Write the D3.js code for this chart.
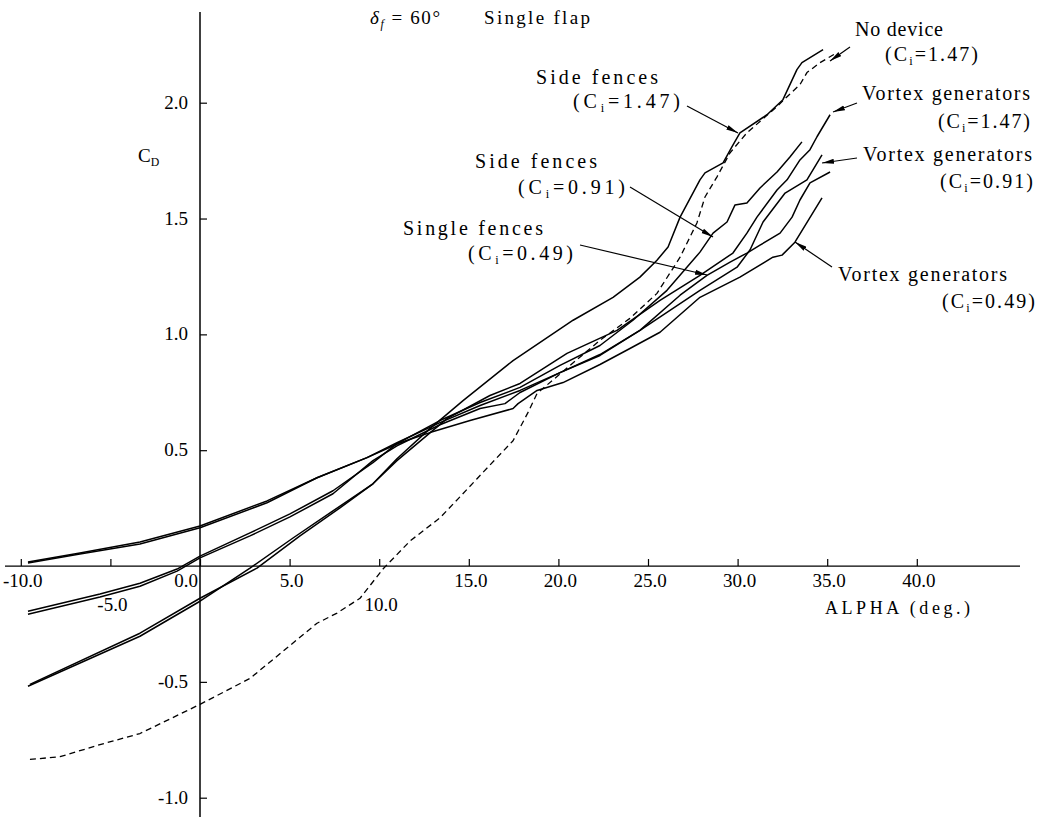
<!DOCTYPE html>
<html><head><meta charset="utf-8">
<script src="https://cdn.jsdelivr.net/npm/d3@7"></script>
<style>
body{margin:0;background:#fff}
svg{display:block}
</style>
</head><body>
<svg id="chart" width="1040" height="817" font-family="'Liberation Serif', 'Times New Roman', Times, 'DejaVu Serif', serif"></svg>
<script>
// ---------- data ----------
const xTicks = [-10, -5, 0, 5, 10, 15, 20, 25, 30, 35, 40];
const xTickLabels = ["-10.0", "-5.0", "0.0", "5.0", "10.0", "15.0", "20.0", "25.0", "30.0", "35.0", "40.0"];
const yTicks = [2.0, 1.5, 1.0, 0.5, -0.5, -1.0];
const yTickLabels = ["2.0", "1.5", "1.0", "0.5", "-0.5", "-1.0"];

// No device (Ci = 1.47) - dashed
const alphaNoDevice = [-9.49,-7.81,-5.58,-3.35,0,2.79,4.63,6.53,7.65,8.93,10.21,11.72,13.39,14.40,15.46,17.47,18.30,18.81,20.65,22.32,23.99,25.50,26.79,27.73,28.18,28.85,29.58,30.52,32.20,32.76,33.48,33.87,34.60,35.55];
const cdNoDevice    = [-0.835,-0.823,-0.771,-0.723,-0.597,-0.485,-0.368,-0.247,-0.203,-0.139,-0.013,0.108,0.208,0.290,0.377,0.541,0.662,0.745,0.866,0.974,1.069,1.177,1.333,1.481,1.593,1.680,1.784,1.870,1.983,2.026,2.078,2.130,2.173,2.216];

// Side fences (Ci = 1.47)
const alphaSide147 = [-9.60,-3.35,0,2.79,5.19,7.42,9.65,10.99,12.83,14.68,17.47,20.82,23.05,24.55,25.50,26.12,26.79,27.90,28.18,29.19,29.69,30.13,31.64,32.53,33.31,33.59,34.77];
const cdSide147    = [-0.519,-0.303,-0.152,-0.009,0.121,0.238,0.355,0.463,0.593,0.714,0.887,1.061,1.160,1.247,1.320,1.377,1.506,1.667,1.697,1.740,1.810,1.870,1.948,2.013,2.143,2.173,2.229];

// Vortex generators (Ci = 1.47)
const alphaVG147 = [-9.49,-3.35,0,3.18,5.58,7.81,9.65,10.99,13.78,16.18,17.86,20.48,23.27,25.67,27.90,29.74,30.52,31.08,32.20,32.76,33.48,34.04,34.43,35.16];
const cdVG147    = [-0.511,-0.290,-0.139,-0.009,0.130,0.251,0.355,0.455,0.636,0.736,0.788,0.918,1.017,1.147,1.255,1.351,1.437,1.506,1.623,1.667,1.753,1.797,1.853,1.948];

// Side fences (Ci = 0.91)
const alphaSide091 = [-9.60,-5.58,-3.35,-1.28,0,2.79,5.02,7.42,9.65,10.99,13.39,15.63,17.86,20.09,22.32,24.16,26.06,27.90,28.63,29.41,29.85,30.52,31.25,32.20,32.92,33.59];
const cdSide091    = [-0.195,-0.121,-0.074,-0.013,0.043,0.143,0.225,0.325,0.446,0.528,0.628,0.706,0.771,0.866,0.952,1.061,1.190,1.355,1.437,1.485,1.558,1.567,1.632,1.701,1.766,1.831];

// Vortex generators (Ci = 0.91)
const alphaVG091 = [-9.60,-5.58,-3.35,-1.28,0,2.79,5.02,7.42,9.65,10.99,13.39,15.63,17.02,17.86,20.09,22.32,24.55,27.90,29.97,30.69,31.42,32.65,33.87,34.71];
const cdVG091    = [-0.208,-0.134,-0.087,-0.022,0.035,0.130,0.212,0.312,0.455,0.519,0.610,0.680,0.701,0.749,0.835,0.913,1.017,1.190,1.290,1.364,1.485,1.610,1.667,1.775];

// Single fences (Ci = 0.49)
const alphaSingle049 = [-9.60,-6.70,-3.35,0,3.74,6.53,9.32,10.99,13.39,15.63,17.86,20.09,22.32,24.55,26.79,28.29,29.58,30.52,31.25,32.37,33.04,33.48,34.04,35.16];
const cdSingle049    = [0.013,0.052,0.095,0.165,0.273,0.381,0.468,0.532,0.619,0.693,0.758,0.835,0.909,1.017,1.169,1.255,1.312,1.351,1.385,1.437,1.506,1.580,1.654,1.701];

// Vortex generators (Ci = 0.49)
const alphaVG049 = [-9.60,-6.70,-3.35,0,3.74,6.53,9.32,11.16,12.83,15.07,17.47,17.75,18.81,20.26,22.32,23.99,25.67,27.90,30.13,31.97,32.48,33.20,34.71];
const cdVG049    = [0.017,0.056,0.104,0.173,0.281,0.381,0.468,0.532,0.576,0.628,0.680,0.701,0.758,0.792,0.870,0.939,1.009,1.160,1.247,1.333,1.342,1.398,1.589];

const series = [
  {name:"No device (Ci=1.47)", a:alphaNoDevice, c:cdNoDevice, dashed:true},
  {name:"Side fences (Ci=1.47)", a:alphaSide147, c:cdSide147},
  {name:"Vortex generators (Ci=1.47)", a:alphaVG147, c:cdVG147},
  {name:"Side fences (Ci=0.91)", a:alphaSide091, c:cdSide091},
  {name:"Vortex generators (Ci=0.91)", a:alphaVG091, c:cdVG091},
  {name:"Single fences (Ci=0.49)", a:alphaSingle049, c:cdSingle049},
  {name:"Vortex generators (Ci=0.49)", a:alphaVG049, c:cdVG049}
];

// ---------- drawing ----------
const FONT = "'Liberation Serif', 'Times New Roman', Times, 'DejaVu Serif', serif";
const svg = d3.select("#chart");
const x = d3.scaleLinear().domain([-10, 40]).range([20.8, 916.8]);
const y = d3.scaleLinear().domain([-1, 2]).range([797.7, 102.7]);

// axis lines
svg.append("line").attr("x1", 5).attr("x2", 1020).attr("y1", y(0)).attr("y2", y(0))
  .attr("stroke", "#000").attr("stroke-width", 1.3);
svg.append("line").attr("x1", x(0)).attr("x2", x(0)).attr("y1", 12).attr("y2", 817)
  .attr("stroke", "#000").attr("stroke-width", 1.5);

const gx = svg.append("g").attr("transform", `translate(0,${y(0)})`)
  .call(d3.axisTop(x).tickValues(xTicks).tickSize(7).tickFormat(""));
gx.select(".domain").remove();
gx.selectAll(".tick line").attr("stroke", "#000").attr("stroke-width", 1.2);

const gy = svg.append("g").attr("transform", `translate(${x(0)},0)`)
  .call(d3.axisRight(y).tickValues(yTicks).tickSize(7).tickFormat(""));
gy.select(".domain").remove();
gy.selectAll(".tick line").attr("stroke", "#000").attr("stroke-width", 1.2);

// x tick labels (staggered like the original)
const lowered = new Set([-5, 10]);
svg.append("g").selectAll("text").data(xTicks).join("text")
  .attr("x", d => x(d) + (d === 0 ? -14 : 2))
  .attr("y", d => y(0) + (lowered.has(d) ? 45 : 21))
  .attr("text-anchor", "middle")
  .attr("font-family", FONT)
  .attr("font-size", 19)
  .text((d, i) => xTickLabels[i]);

// y tick labels
svg.append("g").selectAll("text").data(yTicks).join("text")
  .attr("x", x(0) - 12)
  .attr("y", d => y(d) + 6)
  .attr("text-anchor", "end")
  .attr("font-family", FONT)
  .attr("font-size", 19)
  .text((d, i) => yTickLabels[i]);

// curves
const line = d3.line().x(d => x(d[0])).y(d => y(d[1]));
svg.append("g").selectAll("path").data(series).join("path")
  .attr("d", s => line(s.a.map((v, i) => [v, s.c[i]])))
  .attr("fill", "none")
  .attr("stroke", "#000")
  .attr("stroke-width", s => s.dashed ? 1.3 : 1.5)
  .attr("stroke-dasharray", s => s.dashed ? "6,4" : null)
  .attr("stroke-linejoin", "round");

// arrow marker
svg.append("defs").append("marker")
  .attr("id", "ah").attr("viewBox", "0 0 12 6").attr("refX", 12).attr("refY", 3)
  .attr("markerWidth", 12).attr("markerHeight", 6).attr("markerUnits", "userSpaceOnUse")
  .attr("orient", "auto")
  .append("path").attr("d", "M0,0.5 L12,3 L0,5.5 z").attr("fill", "#000");

// helper for text with optional subscript; parts: [text, isSub, italic]
function richText(parent, parts, px, py, size, target) {
  const t = parent.append("text").attr("x", px).attr("y", py)
    .attr("font-size", size).attr("font-family", FONT);
  let sub = false;
  parts.forEach(([str, isSub, ital]) => {
    const ts = t.append("tspan").text(str);
    if (ital) ts.attr("font-style", "italic");
    if (isSub && !sub) { ts.attr("dy", 4).attr("font-size", size * 0.62); sub = true; }
    else if (!isSub && sub) { ts.attr("dy", -4); sub = false; }
  });
  if (target) {
    const natural = t.node().getComputedTextLength();
    const n = parts.reduce((s, p) => s + p[0].length, 0);
    const ls = (target - natural) / Math.max(1, n - 1);
    t.attr("letter-spacing", ls.toFixed(2) + "px");
  }
  return t;
}
function ci(v) { return [["(C", false], ["i", true], ["=" + v + ")", false]]; }

const ann = svg.append("g");
const labels = [
  {l1:"No device", x1:855, y1:36, w1:88, v:"1.47", x2:885, y2:61, w2:93, from:[850,47], to:[830,61]},
  {l1:"Side fences", x1:536, y1:84, w1:122, v:"1.47", x2:573, y2:108, w2:107, from:[687,106], to:[738,133]},
  {l1:"Vortex generators", x1:862, y1:100, w1:168, v:"1.47", x2:938, y2:128, w2:92, from:[857,103], to:[833,112]},
  {l1:"Side fences", x1:475, y1:168, w1:122, v:"0.91", x2:518, y2:194, w2:107, from:[630,187], to:[713,237]},
  {l1:"Vortex generators", x1:863, y1:161, w1:169, v:"0.91", x2:940, y2:188, w2:93, from:[857,158], to:[822,163]},
  {l1:"Single fences", x1:403, y1:235, w1:140, v:"0.49", x2:468, y2:260, w2:105, from:[580,245], to:[707,275]},
  {l1:"Vortex generators", x1:838, y1:281, w1:169, v:"0.49", x2:942, y2:308, w2:93, from:[832,267], to:[795,242]}
];
labels.forEach(L => {
  richText(ann, [[L.l1, false]], L.x1, L.y1, 20, L.w1);
  richText(ann, ci(L.v), L.x2, L.y2, 20, L.w2);
  ann.append("line").attr("x1", L.from[0]).attr("y1", L.from[1])
    .attr("x2", L.to[0]).attr("y2", L.to[1])
    .attr("stroke", "#000").attr("stroke-width", 1.2).attr("marker-end", "url(#ah)");
});

// title
richText(ann, [["δ", false, true], ["f", true, true], [" = 60°", false]], 370, 24, 19, 70);
richText(ann, [["Single flap", false]], 484, 24, 19, 106);

// axis titles
richText(ann, [["C", false], ["D", true]], 138, 162, 19, null);
richText(ann, [["ALPHA (deg.)", false]], 825, 614, 18, 145);
</script>
</body></html>
